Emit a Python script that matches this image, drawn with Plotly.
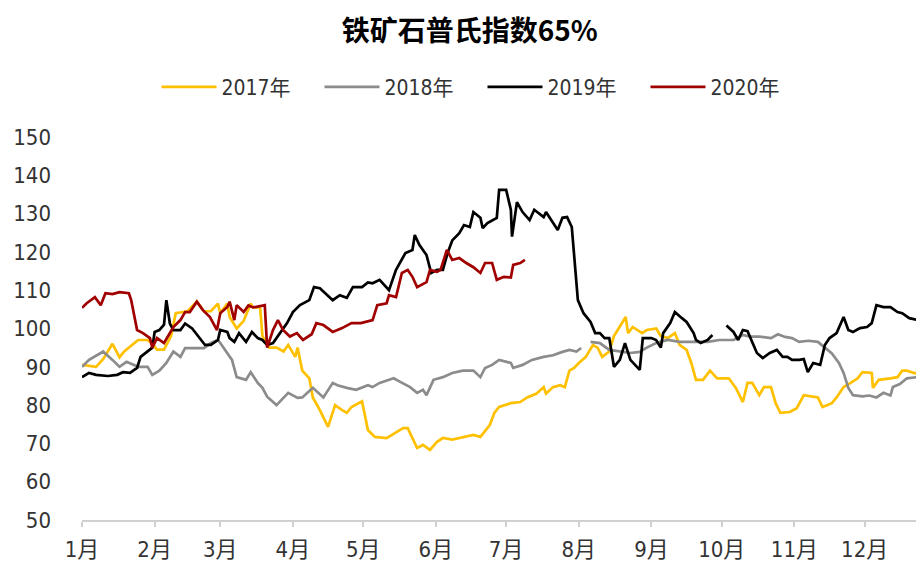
import plotly.graph_objects as go

# day-of-year positions and index values
days_2017 = [0, 6, 9, 13, 16, 18, 22, 24, 28, 30, 32, 35, 38, 40, 45, 49, 52, 55, 58, 59, 62, 63, 66, 69, 72, 73, 76,
             77, 80, 83, 86, 88, 91, 92, 94, 97, 98.5, 101.5, 105, 108, 111, 113, 115, 119.5, 122, 125, 130, 134, 137,
             139, 143, 145.5, 148.5, 151.5, 154, 158, 164, 167, 170, 174, 176, 178, 183, 187, 190, 194, 197, 198, 201,
             204, 206, 208, 210, 212, 215, 218, 220, 222, 225, 227, 232, 233, 235, 239, 241, 245, 247, 250, 253, 255,
             258, 260, 262, 265, 268, 271, 276, 279, 282, 284, 286, 289, 291, 294, 296, 298, 302, 305, 308, 314, 316,
             320, 322, 325, 328, 331, 333, 337, 337.5, 340, 345, 348, 350, 352, 355, 359]
val_2017 = [90.5, 90, 92, 96, 92.5, 94, 96, 97, 97, 96, 94.5, 94.5, 98, 104, 104.5, 107, 104.5, 104.5, 106.5, 104, 106.5,
            103, 100, 102, 106.5, 105.5, 105.5, 98, 95, 95, 94, 95.7, 92.6, 95, 89, 87, 82, 78.7, 74.3, 80, 78.7, 78,
            79.5, 81, 73.5, 71.7, 71.4, 73, 74, 74, 68.8, 69.6, 68.3, 70.4, 71.4, 71, 71.7, 72.2, 71.7, 74.8, 78, 79.5,
            80.5, 80.8, 82, 83, 84.7, 83, 84.7, 85.2, 84.7, 89, 89.7, 91, 92.6, 95.7, 95, 92.6, 94, 98, 103, 98.8,
            100.4, 98.8, 99.6, 100, 98, 97.5, 98.8, 95.7, 94.4, 91, 86.6, 86.6, 89, 87, 87, 84.5, 80.8, 85.8, 85.8,
            82.6, 84.7, 84.7, 80.5, 78, 78.2, 79.2, 82.6, 82, 79.5, 80.5, 82, 84.7, 85.8, 87, 88.6, 88.4, 84.5, 86.6,
            87, 87.3, 89, 89, 88.4, 87.9]

days_2018 = [0, 3, 8, 9, 13, 16, 19, 24, 28, 30, 33, 36, 39, 42, 44, 47, 52, 55, 58, 59, 62, 64, 66, 70, 72, 75, 77, 79,
             83, 86, 88, 92, 94, 98.5, 103, 107, 109, 113, 117, 122, 124, 127, 133, 136, 140, 143, 145.5, 147, 150,
             154, 158, 162.5, 167, 170, 172, 175, 178, 183, 184, 188, 192, 197, 201, 205, 208, 211, 213, 215, 217,
             221, 225, 230, 234, 238, 241, 245, 250, 255, 261, 267, 272, 278, 282, 285, 289, 294, 297, 300, 303, 306,
             310, 314, 317, 320, 323, 325, 327, 329, 333, 336, 339, 342, 345, 346, 349, 352, 355, 359]
val_2018 = [90, 91.8, 93.6, 94, 91.8, 90, 91.3, 90, 90, 87.9, 89, 91, 94, 92.6, 94.9, 94.9, 94.9, 96.2, 97, 96.2, 93.6,
            91.8, 87.3, 86.6, 88.6, 85.8, 84.5, 82.2, 80, 81.9, 83.2, 81.9, 82, 84.5, 82, 85.8, 85.2, 84.5, 84, 85.2,
            84.7, 85.8, 87, 86, 84.7, 83.2, 84, 82.6, 86.6, 87.3, 88.4, 89, 89, 87.3, 89.7, 90.5, 91.8, 91, 89.7, 90.5,
            91.8, 92.6, 93, 93.9, 94.4, 94, 94.9, None, 96.5, 96.2, 94.4, 93.9, 93.6, 93.9, 95, 96.2, 97, 96.5, 96.5,
            96.5, 97, 97, 98.3, 97.9, 97.9, 97.5, 98.5, 97.8, 97.5, 96.5, 96.8, 96.5, 95, 93.5, 91, 88.4, 84.5, 82.6,
            82.3, 82.5, 82, 83.2, 82.5, 84.7, 85.5, 87, 87.2, 87.4]

days_2019 = [0, 3, 6, 11, 15, 17.5, 20.5, 23.5, 25, 28, 30, 31, 33, 35, 36, 37.5, 39, 42, 44, 47, 50, 52.5, 55, 58, 59,
             62, 63, 65, 67, 70, 72.5, 75, 77, 79, 81.5, 84.5, 87.5, 90, 93, 97, 99, 101.5, 104.5, 107, 110, 113,
             115.6, 119.5, 122, 124, 127, 131, 134, 138, 141, 142, 144, 147, 149, 151.5, 154, 156, 158, 161, 163,
             165.5, 167, 170, 171, 173, 177, 178, 181, 183, 183.5, 185.6, 188, 191, 193, 197, 198, 203, 205, 207, 209,
             211.6, 214, 217, 219, 221, 223, 225, 227, 229.5, 231.7, 234, 238, 239.3, 243, 245, 247, 248, 251, 253,
             256, 258, 261, 262, 264, 267, 269, 272, 275, 278, 280, 282, 284, 286, 288, 290.5, 293.5, 296.5, 299, 301,
             303, 306, 308, 309.7, 312, 315, 317, 319, 322, 325, 327, 329, 332, 335, 337, 339, 342, 345, 348, 350,
             353, 357, 359]
val_2019 = [87.3, 88.4, 87.9, 87.6, 87.9, 88.6, 88.4, 89.7, 92.6, 93.9, 95, 99.1, 99.6, 101, 107.4, 101.3, 99.6, 99.6,
            101.3, 100, 97.5, 95.7, 95.7, 97, 99.6, 99.1, 97.5, 96.5, 98.8, 96.5, 99.1, 97.5, 97, 95.7, 96.2, 98.8,
            101.4, 104.3, 106.1, 107.4, 110.8, 110.5, 108.7, 107.4, 108.7, 108, 110.8, 110.8, 112, 111.8, 112.7, 110,
            115.3, 119.7, 120.5, 124.4, 121.8, 119.2, 114.5, 115.3, 115.3, 119.7, 123, 124.9, 127, 126.5, 130.4, 128.9,
            126.2, 127.5, 128.9, 136.2, 136.2, 131, 124, 133, 130.4, 128.3, 131, 129.1, 130.4, 125.7, 128.9, 129.1,
            126.5, 107.4, 104, 101.7, 98.8, 98.8, 97.5, 97.5, 90, 91.8, 96.2, 91.8, 89.2, 97.5, 97.5, 97, 95, 98.8,
            101.4, 104.3, 102.7, 101.7, 98.8, 97, 96.2, 97, 98.3, None, 100.8, 99.1, 97, 99.6, 99.3, 96.2, 93.6, 92.3,
            93.6, 94.4, 92.6, 92.6, 91.8, 91.8, 92, 88.6, 91, 90.5, 95.7, 97.5, 98.8, 103, 99.6, 99.1, 100.1, 100.4,
            101.4, 106.1, 105.6, 105.6, 104.3, 104, 102.7, 102.2, 103]

days_2020 = [0, 2, 5.5, 8, 10, 13, 16, 20, 21, 23.5, 26, 29, 30, 32, 35, 37.5, 39, 42, 44, 46, 49, 51.6, 54.6, 57.6, 59,
             62, 63, 65, 66, 69, 71, 73, 77, 78, 79, 81.5, 83.6, 85.8, 88.7, 91.7, 94.3, 98, 100, 103, 107, 111, 115,
             119, 124, 126, 130, 131, 134, 136.5, 139, 141, 143, 147, 148.5, 151.5, 153, 155.7, 158, 161, 164, 167,
             170, 172, 175, 177, 180, 183, 184, 187, 189]
val_2020 = [105.4, 106.6, 108.2, 106.1, 109.2, 109, 109.5, 109.2, 107.4, 99.6, 98.8, 97.5, 95, 97.5, 96.2, 98.8, 100.4,
            102.2, 104.3, 104.3, 107, 104.8, 103, 99.6, 104, 105.6, 107, 102.2, 106.1, 104.3, 106, 105.5, 106.1, 106.1,
            95, 99.6, 102.2, 99.6, 97.9, 98.8, 97, 98.5, 101.4, 100.9, 99.1, 100.1, 101.4, 101.4, 102.2, 106.1, 106.6,
            108.7, 108.2, 114.5, 115.3, 113.5, 110.8, 112.1, 115.3, 114.8, 115.3, 120.5, 117.9, 118.4, 117.1, 116,
            114.5, 117.1, 117.1, 112.7, 113.5, 113.3, 116.6, 117.1, 117.9]

month_days = [0, 31, 59, 90, 120, 151, 181, 212, 243, 273, 304, 334]
month_labels = ['1月', '2月', '3月', '4月', '5月', '6月', '7月', '8月', '9月', '10月', '11月', '12月']

series = [
    ('2017年', days_2017, val_2017, '#FFC000'),
    ('2018年', days_2018, val_2018, '#8C8C8C'),
    ('2019年', days_2019, val_2019, '#000000'),
    ('2020年', days_2020, val_2020, '#A00000'),
]

narrow = 'Liberation Sans Narrow, DejaVu Sans Condensed, Noto Sans CJK SC, sans-serif'
title_font = 'Noto Sans CJK SC, Liberation Sans, sans-serif'

fig = go.Figure()
for name, x, y, color in series:
    fig.add_trace(go.Scatter(x=x, y=y, mode='lines', name=name,
                             line=dict(color=color, width=2.7), connectgaps=False))

# page body has an 8px margin, so the figure is sized to fit 924x562 after that offset
fig.update_layout(
    title=dict(text='<b>铁矿石普氏指数65%</b>', x=0.504, xref='container', xanchor='center',
               y=0.958, yref='container', yanchor='middle',
               font=dict(size=28, color='#000000', family=title_font)),
    legend=dict(orientation='h', x=0.518, xref='container', xanchor='center',
                y=0.857, yref='container', yanchor='middle',
                font=dict(size=21, color='#333333', family=narrow),
                itemwidth=55, entrywidth=93),
    xaxis=dict(range=[0, 359.3], tickvals=month_days, ticktext=month_labels,
               showgrid=False, zeroline=False, showline=True, linecolor='#D0D0D0', linewidth=1.5,
               ticks='outside', ticklen=5, tickcolor='#D0D0D0', tickwidth=1.5, ticklabelstandoff=4,
               tickfont=dict(size=22, color='#333333', family=narrow)),
    yaxis=dict(range=[50, 150], dtick=10, showgrid=False, zeroline=False, showline=False,
               ticklabelstandoff=30,
               tickfont=dict(size=22, color='#333333', family=narrow)),
    plot_bgcolor='white', paper_bgcolor='white',
    width=916, height=554,
    margin=dict(l=74, r=0, t=129, b=42),
    showlegend=True,
)

fig.write_html('out.html')
